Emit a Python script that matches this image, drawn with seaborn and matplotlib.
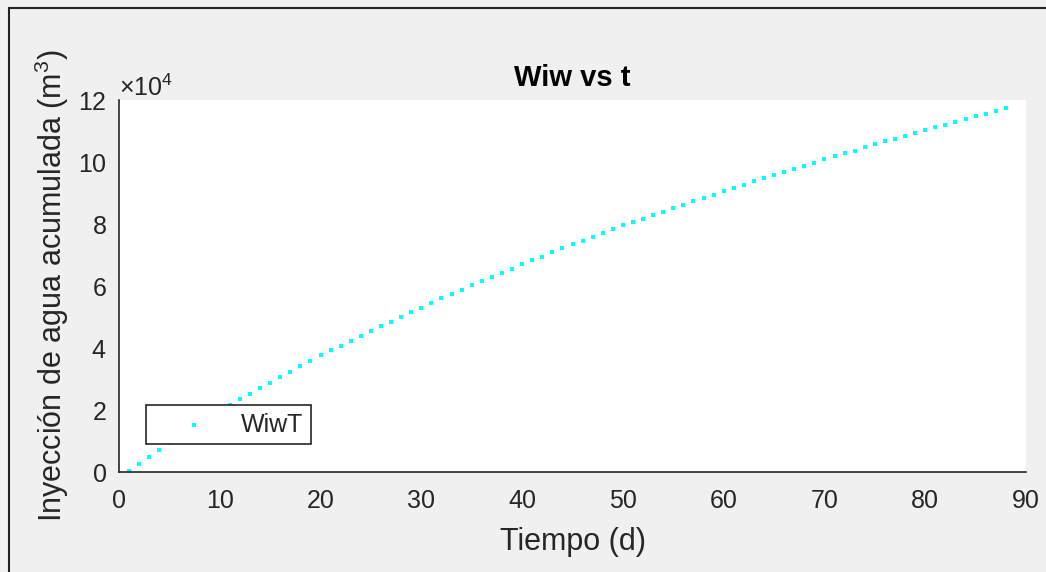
import numpy as np
import matplotlib
matplotlib.use("Agg")
import matplotlib.pyplot as plt
import seaborn as sns
from matplotlib.ticker import ScalarFormatter
from matplotlib.lines import Line2D

# data (day, cumulative injected water m3)
dias = list(range(1, 89))
wiw = [400, 2700, 4900, 7100, 9200, 11500, 13700, 15900, 18000, 19900,
       21700, 23400, 25100, 27000, 28800, 30500, 32300, 34100, 35800, 37700,
       39200, 40750, 42300, 43870, 45590, 47100, 48490, 50100, 51610, 53010,
       54620, 56020, 57310, 58710, 60220, 61610, 63010, 64300, 65590, 67000,
       68340, 69460, 70860, 72150, 73440, 74620, 75810, 77100, 78390, 79570,
       80650, 81720, 82900, 83980, 85050, 86130, 87310, 88390, 89460, 90540,
       91510, 92520, 93870, 94840, 95700, 96770, 97630, 98820, 99790, 100860,
       101830, 102800, 103660, 104730, 105700, 106670, 107530, 108500, 109350, 110320,
       111180, 112040, 113010, 113870, 114740, 115580, 116450, 117420]
xticks = [0, 10, 20, 30, 40, 50, 60, 70, 80, 90]
yticks = [0, 20000, 40000, 60000, 80000, 100000, 120000]

sns.set_style("white")
plt.rcParams['font.family'] = ['Liberation Sans', 'DejaVu Sans']
plt.rcParams['mathtext.fontset'] = 'custom'
plt.rcParams['mathtext.rm'] = 'Liberation Sans'
plt.rcParams['mathtext.it'] = 'Liberation Sans'

bg = '#f0f0f0'
txt = '#262626'

fig = plt.figure(figsize=(10.46, 5.72), dpi=100, facecolor=bg)
ax = fig.add_axes([119 / 1046, 1 - 472 / 572, 907 / 1046, 372 / 572])
ax.set_facecolor('white')

sns.scatterplot(x=dias, y=wiw, color='cyan', marker='s', s=11, linewidth=0,
                label='WiwT', ax=ax)

ax.set_xlim(0, 90)
ax.set_ylim(0, 120000)
ax.set_xticks(xticks)
ax.set_yticks(yticks)

fmt = ScalarFormatter(useMathText=True)
fmt.set_powerlimits((4, 4))
ax.yaxis.set_major_formatter(fmt)
ax.yaxis.get_offset_text().set_fontsize(18)
ax.yaxis.get_offset_text().set_color(txt)

for s in ['top', 'right']:
    ax.spines[s].set_visible(False)
for s in ['left', 'bottom']:
    ax.spines[s].set_color(txt)
    ax.spines[s].set_linewidth(1.2)

ax.tick_params(direction='in', length=6, width=1.2, colors=txt, labelsize=18)
ax.tick_params(axis='x', pad=12)
ax.tick_params(axis='y', pad=9)

ax.set_xlabel('Tiempo (d)', fontsize=22, color=txt, labelpad=10)
ax.set_ylabel('Inyección de agua acumulada (m$^3$)', fontsize=22, color=txt,
              labelpad=5)
ax.set_title('Wiw vs t', fontsize=21, fontweight='bold', color='black', pad=10)

leg = ax.legend(loc='lower left', bbox_to_anchor=(0.0298, 0.075), fontsize=18,
                frameon=True, fancybox=False, framealpha=1, edgecolor=txt,
                borderaxespad=0, handlelength=3.25, borderpad=0.3,
                handletextpad=0.25)
leg.get_frame().set_linewidth(1.2)
for t in leg.get_texts():
    t.set_color(txt)

# screenshot frame lines (top and left)
fig.add_artist(Line2D([9 / 1046, 1], [1 - 8 / 572, 1 - 8 / 572],
                      transform=fig.transFigure, color='#222222', lw=1.5))
fig.add_artist(Line2D([9 / 1046, 9 / 1046], [0, 1 - 8 / 572],
                      transform=fig.transFigure, color='#222222', lw=1.5))

fig.savefig('out.png', dpi=100, facecolor=bg)
